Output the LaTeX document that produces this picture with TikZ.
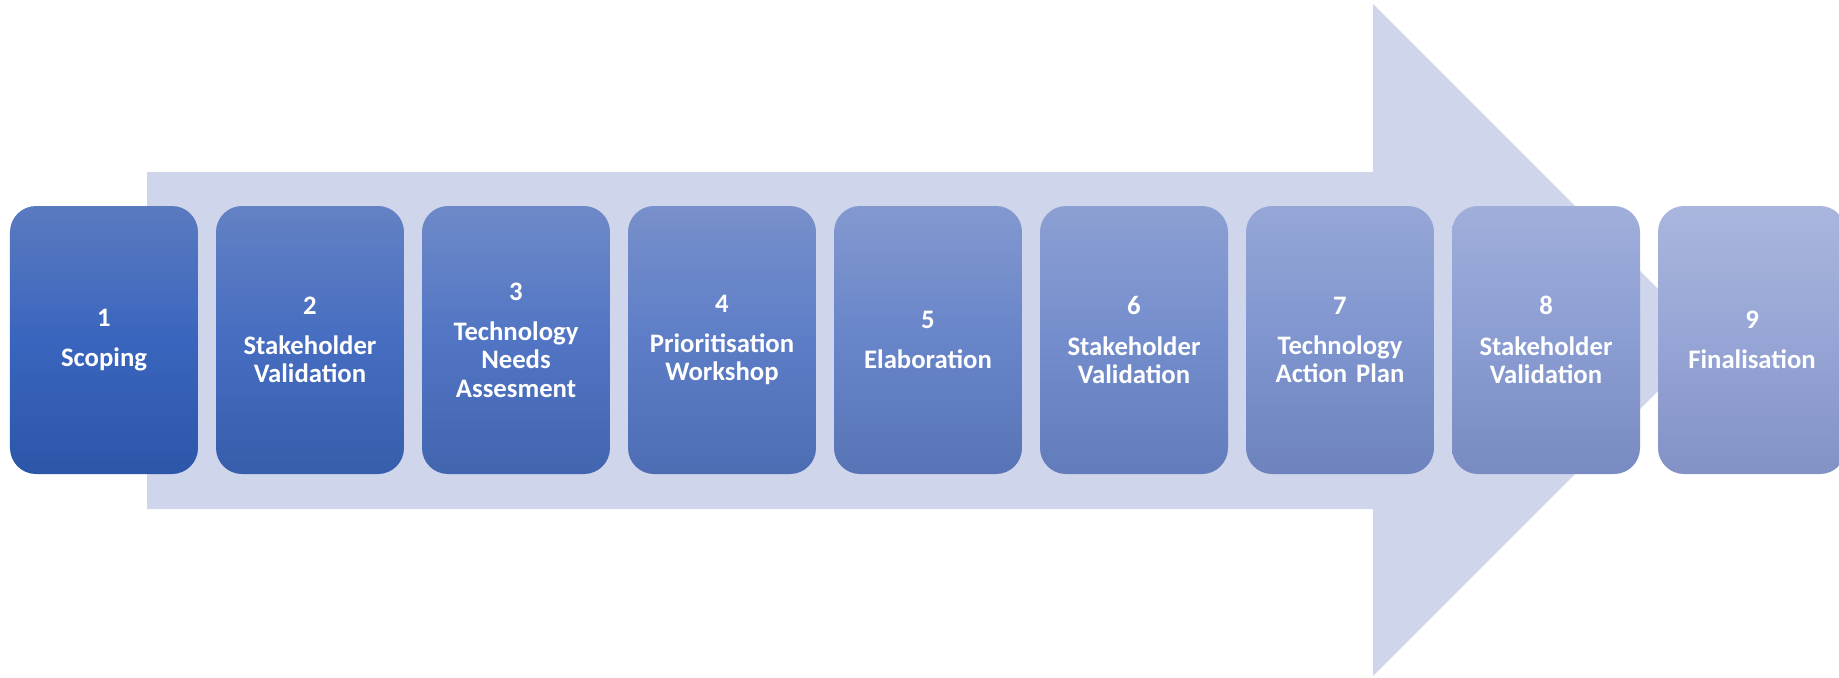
\documentclass[tikz,border=0pt]{standalone}
\usepackage{fontspec}
\setmainfont{Carlito}
\definecolor{arrowfill}{RGB}{207,213,234}
\definecolor{firsttop}{RGB}{90,122,192}
\definecolor{firstmid}{RGB}{58,101,190}
\definecolor{firstbot}{RGB}{44,86,168}
\definecolor{lasttop}{RGB}{170,182,222}
\definecolor{lastmid}{RGB}{150,165,213}
\definecolor{lastbot}{RGB}{131,146,197}
\tikzset{stepbox/.style={rounded corners=0.26cm,minimum width=1.88cm,minimum height=2.68cm,text width=1.8cm,align=center,text=white,font=\fontsize{7.6}{8}\selectfont\bfseries,inner sep=0pt}}
\begin{document}
\begin{tikzpicture}
                \useasboundingbox (0,0) rectangle (18.39,-6.77);
                \fill[arrowfill] (1.47,-1.72) -- (13.73,-1.72) -- (13.73,-0.04) -- (17.09,-3.40) -- (13.73,-6.76) -- (13.73,-5.09) -- (1.47,-5.09) -- cycle;
                \foreach \n/\lbl [count=\i from 0] in {1/Scoping,2/{Stakeholder\\Validation},3/{Technology\\Needs\\Assesment},4/{Prioritisation\\Workshop},5/Elaboration,6/{Stakeholder\\Validation},7/{Technology\\Action Plan},8/{Stakeholder\\Validation},9/Finalisation}
                {
                    \pgfmathsetmacro{\p}{100-12.5*\i}
                    \node[stepbox,top color=firsttop!\p!lasttop,bottom color=firstbot!\p!lastbot,middle color=firstmid!\p!lastmid] (step\n) at ({1.04+2.06*\i},-3.40) {\n\\[3.5pt]\lbl};
                }
            \end{tikzpicture}
\end{document}
